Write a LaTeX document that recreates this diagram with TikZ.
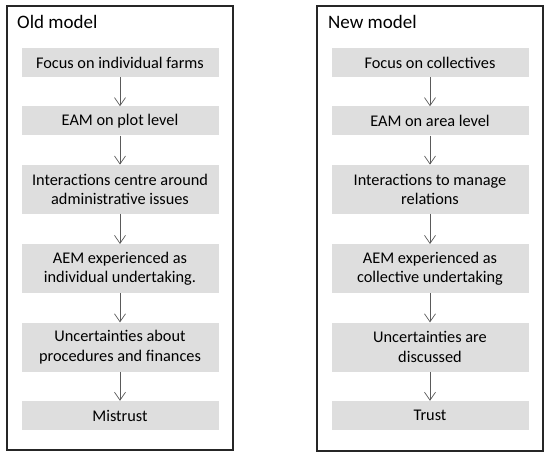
\documentclass[tikz,border=0pt]{standalone}
\usepackage{fontspec}
\setmainfont{Carlito}
\usepackage{xcolor}
\usepackage{tikz}
\usetikzlibrary{arrows.meta,positioning}

\definecolor{stagefill}{HTML}{DEDEDE}
\definecolor{flowgray}{HTML}{5A5A5A}

\begin{document}
\begin{tikzpicture}[
  x=1pt, y=1pt,
  node distance=29pt,
  stage/.style={fill=stagefill, minimum width=197pt, minimum height=29pt, inner sep=2pt, align=center, font=\fontsize{16.3}{19.5}\selectfont},
  stagetwo/.style={stage, minimum height=49pt},
  frame/.style={draw=black!85, line width=1.1pt},
  title/.style={anchor=base west, inner sep=0pt, font=\fontsize{19}{22}\selectfont},
  flow/.style={-{Straight Barb[length=8pt, width=11pt]}, draw=flowgray, line width=0.7pt},
]
\useasboundingbox (0,0) rectangle (550,-457);

% frames
\draw[frame] (7,-6) rectangle (233,-450);
\draw[frame] (317,-6) rectangle (543,-451);

\node[title] (oldtitle) at (17,-29) {Old model};
\node[title] (newtitle) at (328,-29) {New model};

% old model
\node[stage] (o1) at (120,-62.5) {Focus on individual farms};
\node[stage, below=of o1] (o2) {EAM on plot level};
\node[stagetwo, below=of o2] (o3) {Interactions centre around\\administrative issues};
\node[stagetwo, below=30pt of o3] (o4) {AEM experienced as\\individual undertaking.};
\node[stagetwo, below=of o4] (o5) {Uncertainties about\\procedures and finances};
\node[stage, below=of o5] (o6) {Mistrust};

% new model
\node[stage] (n1) at (430,-62.5) {Focus on collectives};
\node[stage, below=of n1] (n2) {EAM on area level};
\node[stagetwo, below=of n2] (n3) {Interactions to manage\\relations};
\node[stagetwo, below=30pt of n3] (n4) {AEM experienced as\\collective undertaking};
\node[stagetwo, below=of n4] (n5) {Uncertainties are\\discussed};
\node[stage, below=of n5] (n6) {Trust};

\foreach \a/\b in {o1/o2,o2/o3,o3/o4,o4/o5,o5/o6,n1/n2,n2/n3,n3/n4,n4/n5,n5/n6}
  \draw[flow] (\a) -- (\b);

\end{tikzpicture}
\end{document}
